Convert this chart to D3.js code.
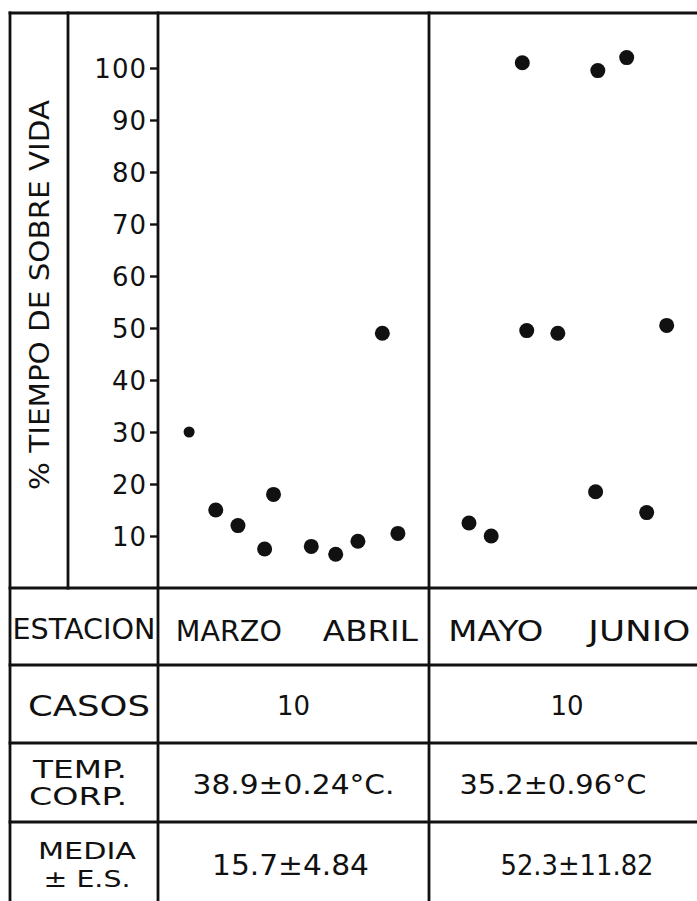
<!DOCTYPE html>
<html>
<head>
<meta charset="utf-8">
<script src="https://cdn.jsdelivr.net/npm/d3@7"></script>
<style>
  body { margin: 0; background: #fff; }
  svg text { font-family: "DejaVu Sans", sans-serif; fill: #111; }
</style>
</head>
<body>
<svg id="chart" width="697" height="901"></svg>
<script>
// values
var yTicks = [10, 20, 30, 40, 50, 60, 70, 80, 90, 100];
var yLabel = "% TIEMPO DE SOBRE VIDA";

var months = ["MARZO", "ABRIL", "MAYO", "JUNIO"];
var monthStart = [0, 31, 61, 92, 122]; // day index from 1 March

// days since 1 March / % survival time
var marAprDays = [7, 13, 18, 24, 26, 34.5, 40, 45, 50.5, 54];
var marAprPct  = [30, 15, 12, 7.5, 18, 8, 6.5, 9, 49, 10.5];
var mayJunDays = [70, 75, 82, 83, 90, 98.5, 99, 105.5, 110, 114.5];
var mayJunPct  = [12.5, 10, 101, 49.5, 49, 18.5, 99.5, 102, 14.5, 50.5];

var casos = ["10", "10"];
var tempCorp = ["38.9\u00B10.24\u00B0C.", "35.2\u00B10.96\u00B0C"];
var mediaES = ["15.7\u00B14.84", "52.3\u00B111.82"];

var svg = d3.select("#chart");
var W = 697, H = 901;
var top_y = 13, left_x = 10, mid_x = 68, axis_x = 158;
var plot_bottom = 588;
var rowEdges = [588, 665, 743, 822, 901];

var y = d3.scaleLinear().domain([0, 100]).range([plot_bottom, 68]);
var x = d3.scaleLinear().domain([0, 122]).range([axis_x, 700]);
var split_x = x(61);

var ink = "#111";

// frame / grid lines
var lines = [
  [left_x, top_y, W, top_y],
  [left_x, top_y, left_x, H],
  [mid_x, top_y, mid_x, plot_bottom],
  [axis_x, top_y, axis_x, H],
  [split_x, top_y, split_x, H]
];
rowEdges.slice(0, 4).forEach(function (r) { lines.push([left_x, r, W, r]); });

svg.selectAll("line.grid")
  .data(lines)
  .enter().append("line")
  .attr("class", "grid")
  .attr("x1", function (d) { return d[0]; })
  .attr("y1", function (d) { return d[1]; })
  .attr("x2", function (d) { return d[2]; })
  .attr("y2", function (d) { return d[3]; })
  .attr("stroke", ink)
  .attr("stroke-width", 2.8)
  .attr("stroke-linecap", "square");

// y axis ticks
var axis = svg.append("g")
  .attr("transform", "translate(" + axis_x + ",0)")
  .call(d3.axisLeft(y).tickValues(yTicks).tickSize(8).tickPadding(3));
axis.select(".domain").remove();
axis.selectAll(".tick line").attr("stroke", ink).attr("stroke-width", 2.4);
axis.selectAll(".tick text")
  .attr("font-size", 26)
  .attr("letter-spacing", 1)
  .attr("dy", "0.36em")
  .style("font-family", "'DejaVu Sans', sans-serif")
  .attr("fill", ink);

// rotated axis title
svg.append("text")
  .attr("transform", "translate(49,295) rotate(-90)")
  .attr("text-anchor", "middle")
  .attr("font-size", 27)
  .attr("textLength", 390)
  .attr("lengthAdjust", "spacingAndGlyphs")
  .text(yLabel);

// points
var pts = [];
marAprDays.forEach(function (d, i) { pts.push({ day: d, pct: marAprPct[i] }); });
mayJunDays.forEach(function (d, i) { pts.push({ day: d, pct: mayJunPct[i] }); });

svg.selectAll("circle.dot")
  .data(pts)
  .enter().append("circle")
  .attr("class", "dot")
  .attr("cx", function (d) { return x(d.day); })
  .attr("cy", function (d) { return y(d.pct); })
  .attr("r", function (d, i) { return i === 0 ? 5.5 : 7.5; })
  .attr("fill", ink);

// table
function rowMid(i) { return (rowEdges[i] + rowEdges[i + 1]) / 2; }
var colMid = [(axis_x + split_x) / 2, (split_x + W) / 2];

function label(txt, cx, cy, size, len) {
  var t = svg.append("text")
    .attr("x", cx).attr("y", cy)
    .attr("text-anchor", "middle")
    .attr("dominant-baseline", "central")
    .attr("font-size", size)
    .text(txt);
  if (len) t.attr("textLength", len).attr("lengthAdjust", "spacingAndGlyphs");
  return t;
}

// row 0: station / months
label("ESTACION", 84, rowMid(0) + 3, 28, 143);
var monthLen = [106, 95, 95, 102];
var monthShift = [2, 8, -2, 6];
months.forEach(function (m, i) {
  var c = x((monthStart[i] + monthStart[i + 1]) / 2) + monthShift[i];
  label(m, c, rowMid(0) + 5, 28, monthLen[i]);
});

// row 1: casos
label("CASOS", 89, rowMid(1) + 2, 28, 122);
casos.forEach(function (c, i) { label(c, colMid[i] + (i ? 4 : 0), rowMid(1) + 2, 26); });

// row 2: body temperature
label("TEMP.", 80, rowMid(2) - 13, 25, 94);
label("CORP.", 78, rowMid(2) + 14, 25, 98);
var tempLen = [202, 187];
tempCorp.forEach(function (c, i) { label(c, colMid[i] + (i ? -10 : 0), rowMid(2) + 2, 27, tempLen[i]); });

// row 3: mean ± s.e.
label("MEDIA", 87, rowMid(3) - 11, 23, 98);
label("\u00B1 E.S.", 87, rowMid(3) + 17, 23, 87);
var mediaLen = [157, 153];
mediaES.forEach(function (c, i) { label(c, colMid[i] + (i ? 14 : -3), rowMid(3) + 4, 28, mediaLen[i]); });
</script>
</body>
</html>
